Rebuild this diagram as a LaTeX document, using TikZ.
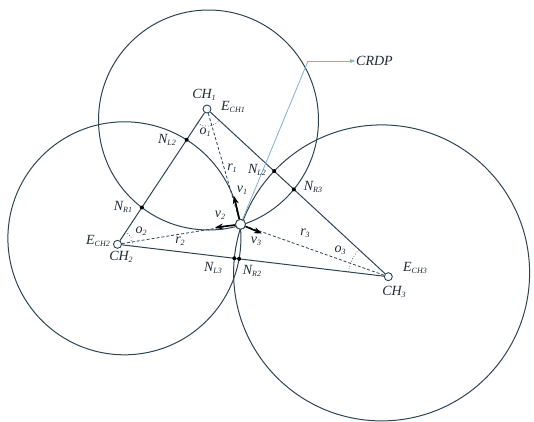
\documentclass[tikz,border=0pt]{standalone}
\usepackage{fontspec}
\setmainfont{Liberation Serif}
\usetikzlibrary{intersections,angles,arrows.meta}
\definecolor{lc}{RGB}{45,68,82}
\definecolor{tc}{RGB}{30,42,52}
\definecolor{crdpc}{RGB}{125,178,208}
\newcommand{\lb}[2]{#1\raisebox{-0.35ex}{\fontsize{8}{9}\selectfont #2}}
\tikzset{
  lbl/.style={font=\fontsize{14}{16}\selectfont\itshape, text=tc, inner sep=0pt},
  chnode/.style={circle, draw=lc, fill=white, line width=0.9pt, minimum size=8pt, inner sep=0pt},
  pnode/.style={circle, draw=lc, fill=white, line width=0.9pt, minimum size=10pt, inner sep=0pt},
  ndot/.style={circle, fill=black, minimum size=4pt, inner sep=0pt},
  ln/.style={draw=lc, line width=1pt},
  rad/.style={draw=lc, line width=0.8pt, dashed, dash pattern=on 3pt off 2pt},
  vec/.style={draw=black, line width=1.6pt, -{Stealth[length=8pt,width=6pt]}},
  ang/.style={draw=lc, line width=0.7pt, dotted},
  crdpl/.style={draw=crdpc, line width=0.8pt}
}
\begin{document}
\begin{tikzpicture}[x=1pt,y=-1pt]
\useasboundingbox (0,0) rectangle (534,421);
% centres
\coordinate (ch1) at (207,109);
\coordinate (ch2) at (117.5,244.3);
\coordinate (ch3) at (388.3,276.7);
\coordinate (p) at (240.5,224.3);
% circles
\draw[ln, name path=c1] (208.5,120) circle[radius=110pt];
\draw[ln, name path=c2] (124.4,238.3) circle[radius=116.5pt];
\draw[ln, name path=c3] (381.6,272.9) circle[radius=148pt];
% triangle sides
\path[name path=l12] (ch1) -- (ch2);
\path[name path=l13] (ch1) -- (ch3);
\path[name path=l23] (ch2) -- (ch3);
\path[name intersections={of=l12 and c1, by=nr1}];
\path[name intersections={of=l12 and c2, by=nl2a}];
\path[name intersections={of=l13 and c1, by=nr3}];
\path[name intersections={of=l13 and c3, by=nl2b}];
\path[name intersections={of=l23 and c2, by=nr2}];
\path[name intersections={of=l23 and c3, by=nl3}];
% CRDP pointer
\coordinate (crk) at (308,61);
\node[lbl, anchor=west] (crdp) at (356,61) {CRDP};
% nodes
\node[chnode] (CH1) at (ch1) {};
\node[chnode] (CH2) at (ch2) {};
\node[chnode] (CH3) at (ch3) {};
\draw[ln] (CH1) -- (CH2);
\draw[ln] (CH1) -- (CH3);
\draw[ln] (CH2) -- (CH3);
% angles
\pic[ang, angle radius=17pt] {angle = ch2--ch1--ch3};
\pic[ang, angle radius=15pt] {angle = ch3--ch2--ch1};
\pic[ang, angle radius=40pt] {angle = ch1--ch3--ch2};
% radial dashed lines
\node[pnode] (P) at (p) {};
\draw[rad] (CH1) -- (P);
\draw[rad] (CH2) -- (P);
\draw[rad] (CH3) -- (P);
\draw[crdpl] (P) -- (crk);
\draw[crdpl, -{Latex[length=6pt,width=4pt]}] (crk) -- (crdp.west);
% vectors
\coordinate (v1t) at (234,196);
\coordinate (v2t) at (215,227.5);
\coordinate (v3t) at (262,233.5);
\draw[vec] (P) -- (v1t);
\draw[vec] (P) -- (v2t);
\draw[vec] (P) -- (v3t);
\node[pnode] at (p) {};
% intersection dots
\node[ndot] (NR1) at (nr1) {};
\node[ndot] (NL2a) at (nl2a) {};
\node[ndot] (NR3) at (nr3) {};
\node[ndot] (NL2b) at (nl2b) {};
\node[ndot] (NR2) at (nr2) {};
\node[ndot] (NL3) at (nl3) {};
% labels
\node[lbl] (tCH1) at (204,95) {\lb{CH}{1}};
\node[lbl] (tE1) at (233,107) {\lb{E}{CH1}};
\node[lbl] (to1) at (205,132) {\lb{o}{1}};
\node[lbl] (tNL2a) at (167,140) {\lb{N}{L2}};
\node[lbl] (tr1) at (232,168) {\lb{r}{1}};
\node[lbl] (tNL2b) at (257,170) {\lb{N}{L2}};
\node[lbl] (tv1) at (242,190) {\lb{v}{1}};
\node[lbl] (tNR3) at (313,187) {\lb{N}{R3}};
\node[lbl] (tNR1) at (123,207) {\lb{N}{R1}};
\node[lbl] (tv2) at (220,215) {\lb{v}{2}};
\node[lbl] (to2) at (141,231) {\lb{o}{2}};
\node[lbl] (tE2) at (98,241) {\lb{E}{CH2}};
\node[lbl] (tr2) at (180,241) {\lb{r}{2}};
\node[lbl] (tv3) at (256,241) {\lb{v}{3}};
\node[lbl] (tr3) at (305,233) {\lb{r}{3}};
\node[lbl] (to3) at (340,250) {\lb{o}{3}};
\node[lbl] (tCH2) at (121,257) {\lb{CH}{2}};
\node[lbl] (tNL3) at (213,268) {\lb{N}{L3}};
\node[lbl] (tNR2) at (252,271) {\lb{N}{R2}};
\node[lbl] (tE3) at (415,268) {\lb{E}{CH3}};
\node[lbl] (tCH3) at (394,292) {\lb{CH}{3}};
\end{tikzpicture}
\end{document}
